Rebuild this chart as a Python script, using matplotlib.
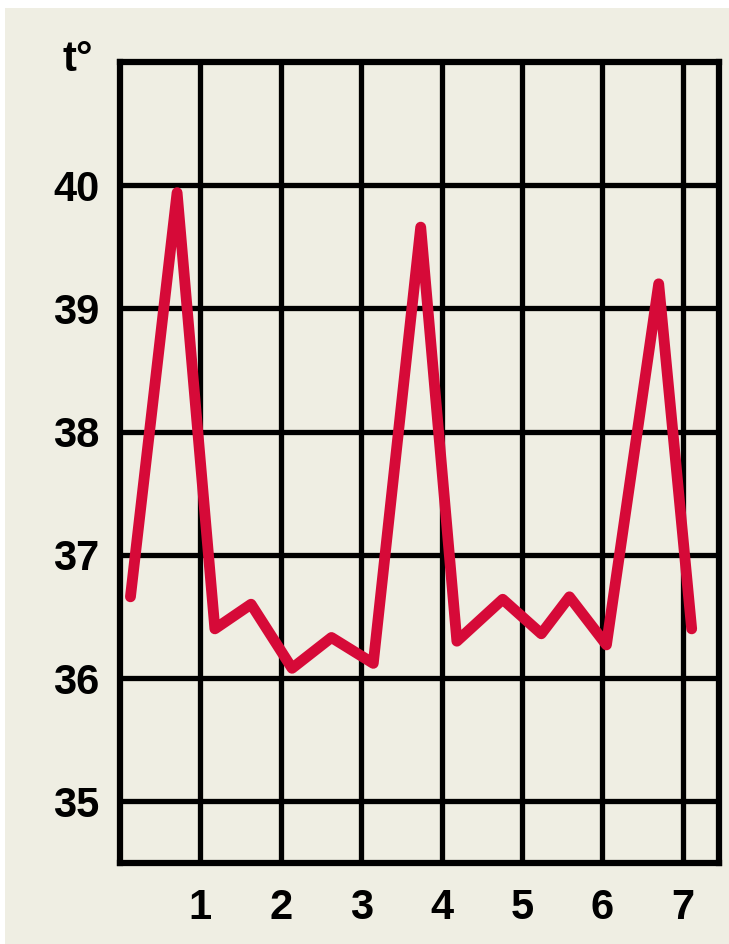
import matplotlib
matplotlib.use("Agg")
import matplotlib.pyplot as plt
from matplotlib.patches import Rectangle

# Data
days = [0.13, 0.71, 1.18, 1.63, 2.14, 2.63, 3.15, 3.74, 4.19, 4.76, 5.24, 5.59, 6.05, 6.70, 7.11]
temps = [36.66, 39.94, 36.40, 36.60, 36.08, 36.33, 36.12, 39.66, 36.30, 36.64, 36.36, 36.66, 36.27, 39.20, 36.40]
x_ticks = [1, 2, 3, 4, 5, 6, 7]
y_ticks = [35, 36, 37, 38, 39, 40]
y_label = "t°"

BG = "#efeee3"
RED = "#d60a38"

W, H = 729, 944
fig = plt.figure(figsize=(W / 100, H / 100), dpi=100, facecolor="white")
fig.patches.append(Rectangle((5 / W, 0), 1 - 5 / W, 1 - 8 / H, transform=fig.transFigure,
                             facecolor=BG, edgecolor="none", zorder=-10))

left, right, top, bottom = 120, 719, 62, 863
ax = fig.add_axes([left / W, 1 - bottom / H, (right - left) / W, (bottom - top) / H])
ax.set_facecolor(BG)
ax.set_xlim(0, 7.45)
ax.set_ylim(34.5, 41)

for x in x_ticks:
    ax.axvline(x, color="black", lw=3.8, zorder=1)
for y in y_ticks:
    ax.axhline(y, color="black", lw=3.8, zorder=1)

ax.plot(days, temps, color=RED, lw=7.8, solid_joinstyle="round", solid_capstyle="round", zorder=3)

for s in ax.spines.values():
    s.set_linewidth(4.5)
    s.set_color("black")
    s.set_zorder(4)

ax.set_xticks(x_ticks)
ax.set_yticks(y_ticks)
ax.set_xticklabels([str(v) for v in x_ticks])
ax.set_yticklabels([str(v) for v in y_ticks])
ax.tick_params(axis="both", length=0, labelsize=30, colors="black")
ax.tick_params(axis="y", pad=15)
ax.tick_params(axis="x", pad=18)
for lab in ax.get_xticklabels() + ax.get_yticklabels():
    lab.set_fontfamily("Liberation Sans")
    lab.set_fontweight("bold")

fig.text(78 / W, 1 - 60 / H, y_label, ha="center", va="center", fontsize=30,
         fontweight="bold", family="Liberation Sans")

fig.savefig("out.png", dpi=100, facecolor=fig.get_facecolor())
